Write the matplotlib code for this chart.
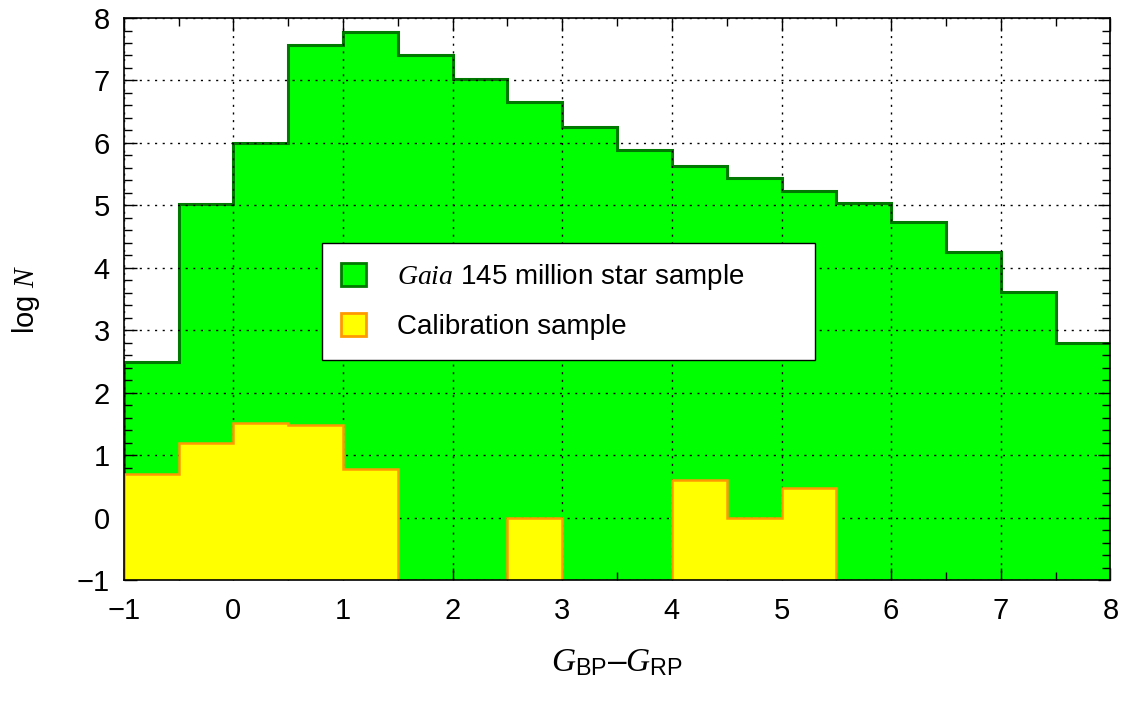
import numpy as np
import matplotlib
matplotlib.use("Agg")
import matplotlib.pyplot as plt
from matplotlib.patches import Patch

plt.rcParams['font.family'] = ['Liberation Sans', 'DejaVu Sans']
plt.rcParams['mathtext.fontset'] = 'custom'
plt.rcParams['mathtext.rm'] = 'Liberation Sans'
plt.rcParams['mathtext.it'] = 'Liberation Serif:italic'
plt.rcParams['mathtext.default'] = 'it'

# bin edges in colour, 0.5 mag wide
edges = np.arange(-1.0, 8.01, 0.5)

# log N of the full Gaia sample per bin
gaia_logn = [2.49, 5.02, 6.0, 7.57, 7.78, 7.41, 7.02, 6.66, 6.26,
             5.89, 5.63, 5.43, 5.23, 5.03, 4.74, 4.26, 3.61, 2.8]

# log N of the calibration sample (nan = empty bin)
calib_logn = [0.69, 1.2, 1.52, 1.49, 0.77, np.nan, np.nan, 0.0, np.nan,
              np.nan, 0.6, 0.0, 0.47, np.nan, np.nan, np.nan, np.nan, np.nan]

fig = plt.figure(figsize=(11.25, 7.01), dpi=100)
ax = fig.add_axes([0.110, 0.1726, 0.877, 0.8017])

ax.stairs(gaia_logn, edges, baseline=-1, fill=True, color='#00ff00', zorder=1)
ax.stairs(gaia_logn, edges, baseline=-1, fill=False, color='#007a00', lw=2.2, zorder=2)

# calibration sample: draw each run of filled bins as its own outline
vals = np.array(calib_logn)
i = 0
while i < len(vals):
    if np.isnan(vals[i]):
        i += 1
        continue
    j = i
    while j < len(vals) and not np.isnan(vals[j]):
        j += 1
    ax.stairs(vals[i:j], edges[i:j + 1], baseline=-1, fill=True, color='#ffff00', zorder=3)
    ax.stairs(vals[i:j], edges[i:j + 1], baseline=-1, fill=False, color='#ff9900', lw=1.8, zorder=4)
    i = j

ax.set_xlim(-1, 8)
ax.set_ylim(-1, 8)
ax.set_xticks(np.arange(-1, 9, 1))
ax.set_yticks(np.arange(-1, 9, 1))
ax.set_xticklabels(['\u22121'] + [str(k) for k in range(0, 9)])
ax.set_yticklabels(['\u22121'] + [str(k) for k in range(0, 9)])
ax.set_xticks(np.arange(-1, 8.01, 0.5), minor=True)
ax.set_yticks(np.arange(-1, 8.01, 0.2), minor=True)

ax.tick_params(which='both', direction='in', top=True, right=True, labelsize=21)
ax.tick_params(which='major', length=9, width=1.0, pad=10)
ax.tick_params(axis='x', which='major', pad=12)
ax.tick_params(which='minor', length=6, width=1.0)

ax.grid(True, which='major', color='black', linestyle=(0, (1.5, 4)), linewidth=1.0, zorder=5)
ax.set_axisbelow(False)
for s in ax.spines.values():
    s.set_linewidth(1.2)
    s.set_zorder(6)

ax.set_xlabel(r'$G_{\mathrm{BP}}$' + '\u2013' + r'$G_{\mathrm{RP}}$', fontsize=24, labelpad=16)
ax.set_ylabel(r'log $N$', fontsize=21, labelpad=25)

handles = [Patch(facecolor='#00ff00', edgecolor='#007a00', lw=2.0),
           Patch(facecolor='#ffff00', edgecolor='#ff9900', lw=2.0)]
labels = [r'$Gaia$ 145 million star sample', 'Calibration sample']
leg = ax.legend(handles, labels, loc='upper left', bbox_to_anchor=(0.2008, 0.4996, 0.5, 0.1),
                mode='expand', fontsize=20, frameon=True, fancybox=False, framealpha=1,
                edgecolor='black', handlelength=0.9, handleheight=0.9,
                handletextpad=1.1, borderpad=0.7, labelspacing=0.75, borderaxespad=0)
leg.get_frame().set_linewidth(1.0)
leg.set_zorder(10)

fig.savefig('out.png', dpi=100)
